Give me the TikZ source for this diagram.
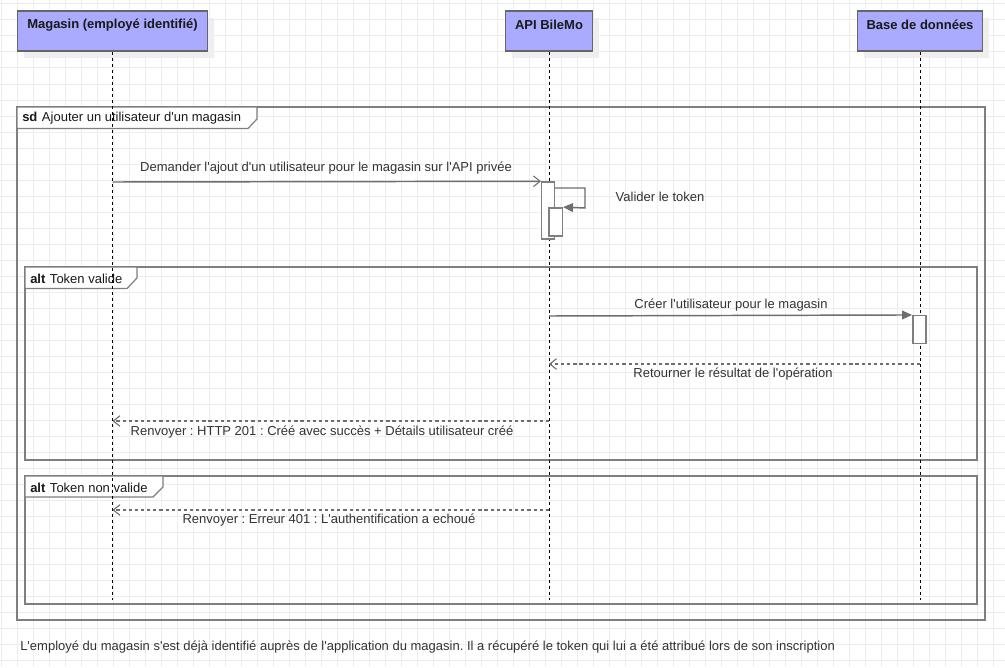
\documentclass[tikz,border=0pt]{standalone}
\usepackage{fontspec}
\setmainfont{Liberation Sans}[Ligatures=TeXOff]
\frenchspacing
\usetikzlibrary{arrows.meta}
\definecolor{partfill}{HTML}{AAAAFF}
\definecolor{partline}{HTML}{666666}
\definecolor{framegray}{HTML}{7F7F7F}
\definecolor{gridgray}{HTML}{EDEDED}
\definecolor{txt}{HTML}{333333}
\definecolor{shadowgray}{HTML}{EEEEEE}
\definecolor{msggray}{HTML}{6E6E6E}

\begin{document}
\begin{tikzpicture}[x=0.75pt,y=-0.75pt,
  gridline/.style={gridgray,line width=0.75pt},
  participant/.style={draw=partline,line width=1.1pt,fill=partfill,minimum height=30pt,inner sep=0pt},
  ptext/.style={font=\bfseries\fontsize{9.75}{11}\selectfont,text=black!90,inner sep=0pt},
  lifeline/.style={black,line width=0.75pt,dash pattern=on 2.25pt off 2.25pt},
  frame/.style={draw=framegray,line width=1.5pt},
  tag/.style={draw=framegray,line width=0.9pt,fill=white},
  tagtext/.style={font=\fontsize{9.75}{11}\selectfont,text=black!90,inner sep=0pt,anchor=west},
  act/.style={draw=framegray,line width=1.1pt,fill=white,inner sep=0pt},
  msg/.style={draw=msggray,line width=1.1pt},
  reply/.style={draw=msggray,line width=0.8pt,dash pattern=on 2.4pt off 2.2pt},
  opentip/.style={-{Straight Barb[length=5pt,width=8pt,line width=0.8pt]}},
  filledtip/.style={-{Triangle[length=7.5pt,width=6.5pt]}},
  lbl/.style={font=\fontsize{9.75}{11}\selectfont,text=txt,inner sep=0pt},
  note/.style={font=\fontsize{9.75}{11}\selectfont,text=txt,inner sep=0pt,anchor=west}
]
\useasboundingbox (0,0) rectangle (1005,667);
\fill[white] (0,0) rectangle (1005,667);

% background grid
\foreach \gx in {1,17,...,1005} \draw[gridline] (\gx,0) -- (\gx,667);
\foreach \gy in {4,20,...,667} \draw[gridline] (0,\gy) -- (1005,\gy);

% combined fragments
\draw[frame] (17,107) rectangle (985,620);
\draw[tag] (17,107) -- (257,107) -- (257,119) -- (248,128.5) -- (17,128.5) -- cycle;
\node[tagtext] (sdtag) at (22,118.5) {\textbf{sd}\hspace{0.35em}Ajouter un utilisateur d'un magasin};

\draw[frame] (25,267) rectangle (977,460);
\draw[tag] (25,267) -- (137,267) -- (137,278) -- (127,288.5) -- (25,288.5) -- cycle;
\node[tagtext] (alt1tag) at (30,278.5) {\textbf{alt}\hspace{0.35em}Token valide};

\draw[frame] (25,476) rectangle (977,604);
\draw[tag] (25,476) -- (163,476) -- (163,487) -- (153,497) -- (25,497) -- cycle;
\node[tagtext] (alt2tag) at (30,487.5) {\textbf{alt}\hspace{0.35em}Token non valide};

% participants
\fill[shadowgray] (24,18) rectangle (214,58);
\fill[shadowgray] (512,18) rectangle (599,58);
\fill[shadowgray] (864,18) rectangle (989,58);
\node[participant,minimum width=142.5pt] (mag) at (112.5,31) {};
\node[participant,minimum width=65.25pt] (api) at (549,31) {};
\node[participant,minimum width=93.75pt] (db) at (920,31) {};
\node[ptext] (magname) at ([yshift=-11pt]mag.north) {Magasin (employé identifié)};
\node[ptext] (apiname) at ([yshift=-11pt]api.north) {API BileMo};
\node[ptext] (dbname) at ([yshift=-11pt]db.north) {Base de données};

% lifelines
\draw[lifeline] (mag.south) -- (mag.south |- 0,600);
\draw[lifeline] (api.south) -- (api.south |- 0,600);
\draw[lifeline] (db.south) -- (db.south |- 0,600);

% activations
\node[act,minimum width=9.5pt,minimum height=42.75pt] (act1) at (548,210.5) {};
\node[act,minimum width=10pt,minimum height=21.2pt] (act1b) at (555.6,222) {};
\node[act,minimum width=10pt,minimum height=20.7pt] (actdb) at (919.5,329.5) {};

% messages
\draw[msg,opentip] (mag.south |- 0,182) -- (act1.north west);
\node[lbl] (m1) at (326,168.5) {Demander l'ajout d'un utilisateur pour le magasin sur l'API privée};

\draw[msg,filledtip] (act1.east |- 0,188) -- (585,188) -- (585,208) -- (act1b.north east);
\node[lbl] (m2) at (660,196.5) {Valider le token};

\draw[msg,filledtip] (api.south |- 0,316) -- (actdb.north west);
\node[lbl] (m3) at (731,305.5) {Créer l'utilisateur pour le magasin};

\draw[reply,opentip] (db.south |- 0,364) -- (api.south |- 0,364);
\node[lbl] (m4) at (733,374) {Retourner le résultat de l'opération};

\draw[reply,opentip] (api.south |- 0,421) -- (mag.south |- 0,421);
\node[lbl] (m5) at (322,432) {Renvoyer : HTTP 201 : Créé avec succès + Détails utilisateur créé};

\draw[reply,opentip] (api.south |- 0,510) -- (mag.south |- 0,510);
\node[lbl] (m6) at (329,520) {Renvoyer : Erreur 401 : L'authentification a echoué};

% note under the diagram
\node[note] (context) at (20,647.5) {L'employé du magasin s'est déjà identifié auprès de l'application du magasin. Il a récupéré le token qui lui a été attribué lors de son inscription};
\end{tikzpicture}
\end{document}
